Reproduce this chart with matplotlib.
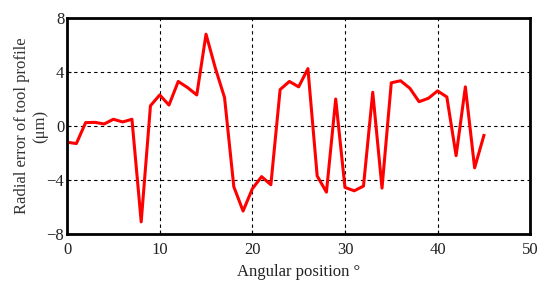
import numpy as np
import matplotlib.pyplot as plt

plt.rcParams['font.family'] = ['Liberation Serif', 'DejaVu Serif']

# angular position (deg) and radial error (um)
angle = np.arange(0, 46)
error = [-1.2, -1.3, 0.25, 0.27, 0.15, 0.5, 0.3, 0.5, -7.1, 1.5,
         2.3, 1.55, 3.3, 2.85, 2.3, 6.8, 4.3, 2.1, -4.5, -6.3,
         -4.65, -3.75, -4.35, 2.7, 3.3, 2.9, 4.25, -3.7, -4.9, 2.0,
         -4.55, -4.8, -4.45, 2.5, -4.6, 3.2, 3.35, 2.8, 1.8, 2.05,
         2.6, 2.15, -2.2, 2.9, -3.1, -0.7]

xticks = [0, 10, 20, 30, 40, 50]
yticks = [-8, -4, 0, 4, 8]

fig = plt.figure(figsize=(5.5, 2.88), dpi=100)
ax = fig.add_axes([0.122, 0.1875, 0.842, 0.75])

ax.plot(angle, error, color='#ff0000', lw=2.2)

ax.set_xlim(0, 50)
ax.set_ylim(-8, 8)
ax.set_xticks(xticks)
ax.set_yticks(yticks)
ax.set_yticklabels([str(v).replace('-', '\u2212') for v in yticks])
ax.tick_params(direction='in', labelsize=12, length=3, width=0.8,
               labelcolor='#222222')
ax.tick_params(axis='y', pad=2)
ax.tick_params(axis='x', pad=6)
ax.grid(True, color='black', ls=(0, (3, 3)), lw=0.8)

for s in ax.spines.values():
    s.set_linewidth(2)

ax.set_xlabel('Angular position \u00b0', fontsize=12, labelpad=4, color='#222222')
ax.set_ylabel('Radial error of tool profile\n(\u03bcm)', fontsize=12,
              labelpad=-1, color='#333333')

fig.savefig('out.png', dpi=100)
